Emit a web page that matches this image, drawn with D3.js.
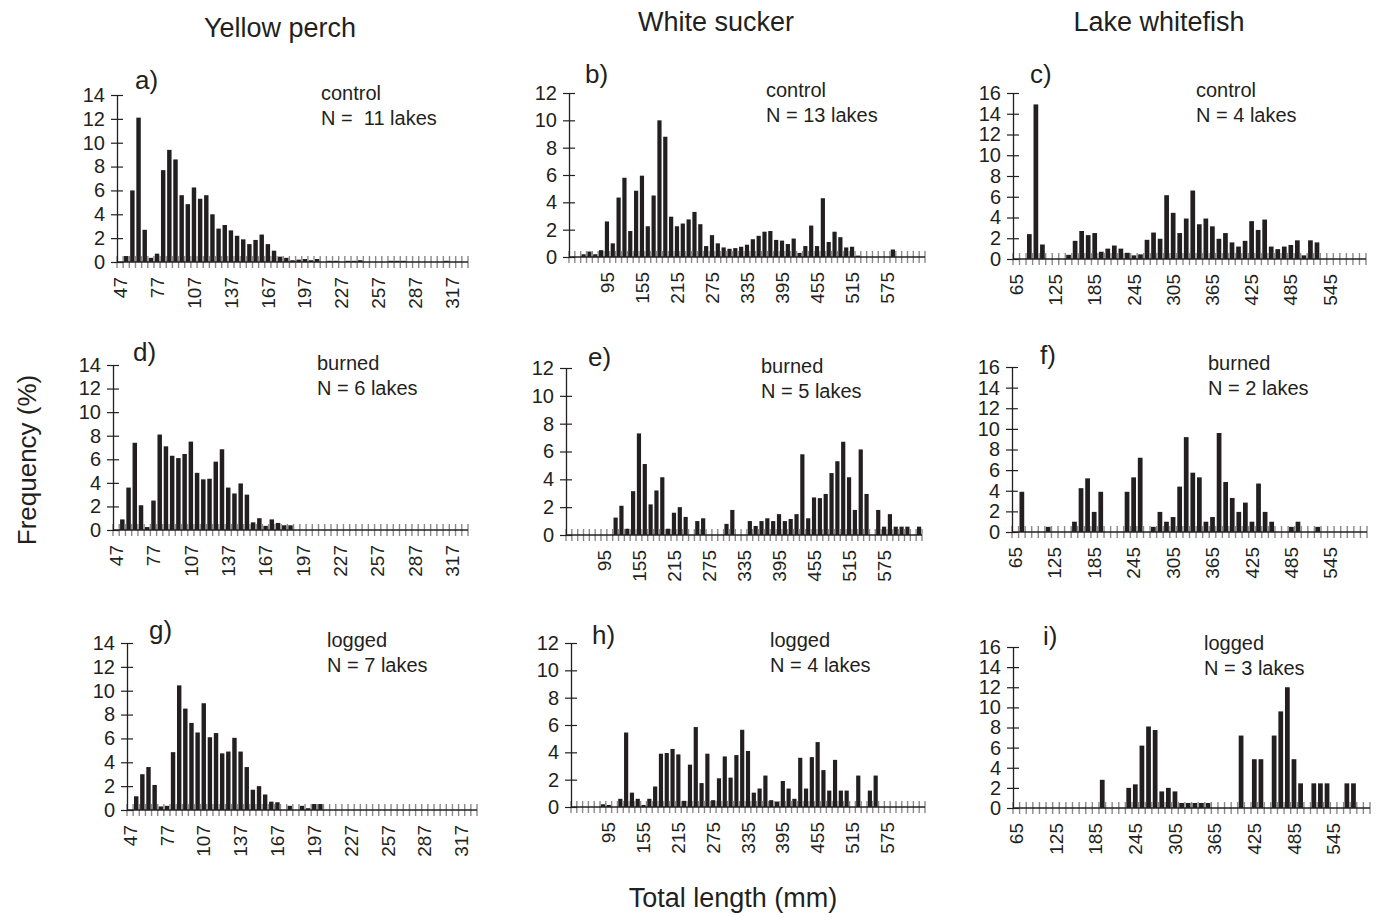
<!DOCTYPE html>
<html>
<head>
<meta charset="utf-8">
<script src="https://cdn.jsdelivr.net/npm/d3@7"></script>
<style>
  body { margin: 0; background: #fff; }
  svg text { font-family: "Liberation Sans", Arial, Helvetica, sans-serif; fill: #231f20; }
</style>
</head>
<body>
<svg id="chart" width="1379" height="917"></svg>
<script>
// length classes (mm), one per bar slot
const perchLengths = [47,52,57,62,67,72,77,82,87,92,97,102,107,112,117,122,127,132,137,142,147,152,157,162,167,172,177,182,187,192,197,202,207,212,217,222,227,232,237,242,247,252,257,262,267,272,277,282,287,292,297,302,307,312,317,322,327];
const suckerLengths = [35,45,55,65,75,85,95,105,115,125,135,145,155,165,175,185,195,205,215,225,235,245,255,265,275,285,295,305,315,325,335,345,355,365,375,385,395,405,415,425,435,445,455,465,475,485,495,505,515,525,535,545,555,565,575,585,595,605,615,625,635];
const whitefishLengths = [65,75,85,95,105,115,125,135,145,155,165,175,185,195,205,215,225,235,245,255,265,275,285,295,305,315,325,335,345,355,365,375,385,395,405,415,425,435,445,455,465,475,485,495,505,515,525,535,545,555,565,575,585,595];

// labelled classes under each x axis
const perchTicks = [47,77,107,137,167,197,227,257,287,317];
const suckerTicks = [95,155,215,275,335,395,455,515,575];
const whitefishTicks = [65,125,185,245,305,365,425,485,545];

// frequency (%) per class
const perchControl = [0,0.5,6.0,12.1,2.7,0.35,0.7,7.7,9.4,8.6, 5.6,4.85,6.25,5.3,5.6,4.0,2.8,3.1,2.65,2.2, 1.9,1.5,1.85,2.3,1.5,0.95,0.45,0.35,0.15,0.2, 0.25,0.15,0.25,0,0.1,0.1,0,0.1,0.1,0.15, 0,0,0,0,0.1,0.1,0.1,0,0,0, 0,0,0,0.1,0,0,0];
const perchBurned = [0,0.9,3.6,7.4,2.1,0.25,2.5,8.1,7.1,6.3, 6.1,6.45,7.5,4.85,4.3,4.35,5.8,6.85,3.6,3.1, 3.95,3.0,0.65,1.0,0.35,0.9,0.6,0.4,0.4,0, 0,0,0,0,0,0,0,0,0,0, 0,0,0,0,0,0,0,0,0,0, 0,0,0,0,0,0,0];
const perchLogged = [0,1.15,3.0,3.6,2.1,0.3,0.35,4.85,10.45,8.5, 7.3,6.5,8.95,6.1,6.45,4.75,4.9,6.05,4.9,3.6, 1.7,2.0,1.3,0.7,0.65,0,0.35,0,0.35,0.15, 0.5,0.5,0,0,0,0,0,0,0,0, 0,0,0,0,0,0,0,0,0,0, 0,0,0,0,0,0,0];

const suckerControl = [0,0,0.2,0.4,0.2,0.5,2.6,1.0,4.35,5.8, 1.9,4.85,5.95,2.25,4.5,10.0,8.8,2.95,2.25,2.45, 2.75,3.3,2.4,0.8,1.6,1.0,0.7,0.6,0.65,0.75, 0.9,1.3,1.55,1.85,1.9,1.25,1.2,0.95,1.35,0.3, 0.8,2.3,0.8,4.3,1.1,1.85,1.45,0.7,0.75,0.1, 0,0,0,0,0,0.55,0,0,0,0, 0];
const suckerBurned = [0,0,0,0,0,0,0,0,1.25,2.1, 0.45,3.15,7.3,5.1,2.2,3.2,4.15,0.45,1.6,2.0, 1.3,0,1.0,1.2,0,0,0,0.8,1.8,0, 0,1.0,0.65,1.0,1.2,1.0,1.5,1.0,1.15,1.5, 5.8,1.2,2.7,2.65,2.95,4.45,5.3,6.7,4.15,1.8, 6.15,2.95,0,1.8,0.6,1.5,0.6,0.6,0.6,0, 0.6];
const suckerLogged = [0,0,0,0,0,0.2,0.15,0,0.6,5.45, 1.05,0.6,0.15,0.6,1.5,3.9,3.95,4.25,3.85,0.45, 3.1,5.85,1.75,3.9,0.5,2.1,3.7,2.15,3.8,5.65, 4.1,1.05,1.35,2.3,0.5,0.4,1.9,1.35,0.6,3.6, 1.35,3.65,4.75,2.7,1.2,3.45,1.2,1.2,0,2.3, 0,1.2,2.3,0,0,0,0,0,0,0, 0];

const whitefishControl = [0,0,2.4,14.9,1.4,0,0,0,0.4,1.75, 2.7,2.3,2.5,0.7,1.0,1.3,1.0,0.6,0.35,0.45, 1.85,2.55,1.95,6.15,4.45,2.5,3.9,6.6,3.35,3.9, 3.15,1.95,2.5,1.6,1.2,1.75,3.65,2.8,3.8,1.2, 0.95,1.2,1.35,1.8,0.35,1.8,1.6,0,0,0, 0,0,0,0];
const whitefishBurned = [0,3.9,0,0,0,0.5,0,0,0,1.0, 4.25,5.2,1.95,3.9,0,0,0,3.9,5.3,7.2, 0,0.5,1.95,1.0,1.45,4.4,9.2,5.75,5.3,1.0, 1.45,9.6,4.85,3.3,1.95,2.85,1.0,4.7,1.95,1.0, 0,0,0.5,1.0,0,0,0.5,0,0,0, 0,0,0,0];
const whitefishLogged = [0,0,0,0,0,0,0,0,0,0, 0,0,0,2.8,0,0,0,2.0,2.35,6.2, 8.1,7.75,1.65,2.0,1.65,0.5,0.5,0.5,0.5,0.5, 0,0,0,0,7.2,0,4.85,4.85,0,7.2, 9.6,12.0,4.85,2.45,0,2.45,2.45,2.45,0,0, 2.45,2.45,0,0];

const species = ["Yellow perch", "White sucker", "Lake whitefish"];

const svg = d3.select("#chart");
const ink = "#231f20";
const tickGray = "#8a8a8a";

// panel layout: axis box in page pixels
const panels = [
  {tag:"a)", cats:perchLengths, vals:perchControl, ticks:perchTicks, ymax:14, x0:117, x1:468, y0:262, y1:95, lx:135, ly:89, note:["control","N =  11 lakes"], nx:321, ny:100},
  {tag:"b)", cats:suckerLengths, vals:suckerControl, ticks:suckerTicks, ymax:12, x0:569, x1:925, y0:257, y1:93, lx:585, ly:83, note:["control","N = 13 lakes"], nx:766, ny:97},
  {tag:"c)", cats:whitefishLengths, vals:whitefishControl, ticks:whitefishTicks, ymax:16, x0:1013, x1:1366, y0:259, y1:93, lx:1030, ly:83, note:["control","N = 4 lakes"], nx:1196, ny:97},
  {tag:"d)", cats:perchLengths, vals:perchBurned, ticks:perchTicks, ymax:14, x0:113, x1:468, y0:530, y1:365, lx:133, ly:361, note:["burned","N = 6 lakes"], nx:317, ny:370},
  {tag:"e)", cats:suckerLengths, vals:suckerBurned, ticks:suckerTicks, ymax:12, x0:566, x1:922, y0:535, y1:368, lx:588, ly:366, note:["burned","N = 5 lakes"], nx:761, ny:373},
  {tag:"f)", cats:whitefishLengths, vals:whitefishBurned, ticks:whitefishTicks, ymax:16, x0:1012, x1:1367, y0:532, y1:367, lx:1040, ly:364, note:["burned","N = 2 lakes"], nx:1208, ny:370},
  {tag:"g)", cats:perchLengths, vals:perchLogged, ticks:perchTicks, ymax:14, x0:127, x1:477, y0:810, y1:643, lx:149, ly:639, note:["logged","N = 7 lakes"], nx:327, ny:647},
  {tag:"h)", cats:suckerLengths, vals:suckerLogged, ticks:suckerTicks, ymax:12, x0:571, x1:925, y0:807, y1:643, lx:592, ly:644, note:["logged","N = 4 lakes"], nx:770, ny:647},
  {tag:"i)", cats:whitefishLengths, vals:whitefishLogged, ticks:whitefishTicks, ymax:16, x0:1013, x1:1370, y0:808, y1:647, lx:1043, ly:645, note:["logged","N = 3 lakes"], nx:1204, ny:650}
];

panels.forEach(function(p) {
  const g = svg.append("g");
  const x = d3.scaleBand().domain(p.cats).range([p.x0, p.x1]).paddingInner(0.28).paddingOuter(0.14);
  const y = d3.scaleLinear().domain([0, p.ymax]).range([p.y0, p.y1]);

  const rows = p.cats.map((c, i) => ({len: c, v: p.vals[i]})).filter(d => d.v > 0);

  //bars
  g.selectAll("rect")
    .data(rows)
    .enter()
    .append("rect")
      .attr("x", d => x(d.len))
      .attr("y", d => y(d.v))
      .attr("width", x.bandwidth())
      .attr("height", d => y(0) - y(d.v))
      .attr("fill", ink);

  //class boundary ticks (cross the axis)
  const step = x.step();
  const bounds = d3.range(p.cats.length + 1).map(i => p.x0 + i * step);
  g.selectAll("line.bound")
    .data(bounds)
    .enter()
    .append("line")
      .attr("class", "bound")
      .attr("x1", d => d).attr("x2", d => d)
      .attr("y1", y(0) - 6).attr("y2", y(0) + 6)
      .attr("stroke", tickGray)
      .attr("stroke-width", 1.4);

  //x axis line
  g.append("line")
    .attr("x1", p.x0).attr("x2", p.x1)
    .attr("y1", y(0)).attr("y2", y(0))
    .attr("stroke", ink).attr("stroke-width", 1.3);

  //x labels, rotated
  const xAxis = d3.axisBottom(x).tickValues(p.ticks).tickSize(0);
  g.append("g")
    .attr("transform", "translate(0," + y(0) + ")")
    .call(xAxis)
    .call(a => a.select(".domain").remove())
    .call(a => a.attr("font-family", null).attr("font-size", null))
    .selectAll("text")
      .attr("transform", "rotate(-90)")
      .attr("x", -15).attr("y", 0).attr("dy", "0.35em")
      .style("text-anchor", "end")
      .style("font-size", "19px");

  //y axis
  const yAxis = d3.axisLeft(y).tickValues(d3.range(0, p.ymax + 1, 2)).tickSizeInner(6).tickSizeOuter(0).tickPadding(6);
  g.append("g")
    .attr("transform", "translate(" + p.x0 + ",0)")
    .attr("color", ink)
    .call(yAxis)
    .call(a => a.attr("font-family", null).attr("font-size", null))
    .call(a => a.select(".domain").attr("stroke-width", 1.3))
    .call(a => a.selectAll(".tick line").attr("x1", 6).attr("stroke-width", 1.2))
    .selectAll("text")
      .style("font-size", "20px");

  //panel letter
  g.append("text")
    .attr("x", p.lx).attr("y", p.ly)
    .style("font-size", "26px")
    .text(p.tag);

  //treatment note
  p.note.forEach(function(t, i) {
    g.append("text")
      .attr("x", p.nx).attr("y", p.ny + i * 25)
      .style("font-size", "20px")
      .style("white-space", "pre")
      .text(t);
  });
});

//column titles
const titleX = [280, 716, 1159];
const titleY = [37, 31, 31];
species.forEach(function(s, i) {
  svg.append("text")
    .attr("x", titleX[i]).attr("y", titleY[i])
    .style("text-anchor", "middle")
    .style("font-size", "27px")
    .text(s);
});

//shared axis titles
svg.append("text")
  .attr("transform", "translate(36,460) rotate(-90)")
  .style("text-anchor", "middle")
  .style("font-size", "26px")
  .text("Frequency (%)");

svg.append("text")
  .attr("x", 733).attr("y", 907)
  .style("text-anchor", "middle")
  .style("font-size", "27px")
  .text("Total length (mm)");
</script>
</body>
</html>
